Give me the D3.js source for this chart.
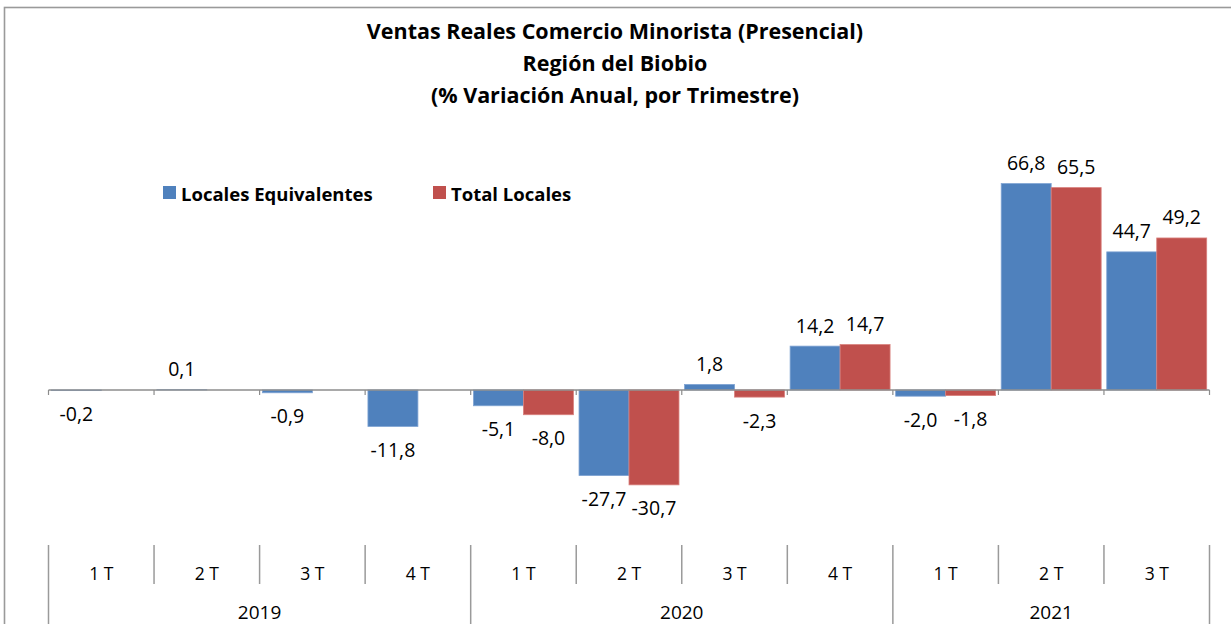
<!DOCTYPE html>
<html>
<head>
<meta charset="utf-8">
<script src="https://cdn.jsdelivr.net/npm/d3@7"></script>
<style>
  html, body { margin: 0; padding: 0; background: #fff; }
  svg { display: block; }
  text { font-family: "Open Sans", Lato, sans-serif; fill: #000; }
</style>
</head>
<body>
<svg id="chart" width="1231" height="624"></svg>
<script>
const titleLines = ["Ventas Reales Comercio Minorista (Presencial)", "Región del Biobio", "(% Variación Anual, por Trimestre)"];
const quarters = ["1 T", "2 T", "3 T", "4 T", "1 T", "2 T", "3 T", "4 T", "1 T", "2 T", "3 T"];
const years = ["2019", "2020", "2021"];
const yearSpans = [4, 4, 3];
const seriesNames = ["Locales Equivalentes", "Total Locales"];
const localesEquivalentes = [-0.2, 0.1, -0.9, -11.8, -5.1, -27.7, 1.8, 14.2, -2.0, 66.8, 44.7];
const totalLocales = [null, null, null, null, -8.0, -30.7, -2.3, 14.7, -1.8, 65.5, 49.2];
const colors = ["#4F81BD", "#C0504D"];
const edgeColors = ["#7fa3d3", "#d9807d"];

const svg = d3.select("#chart");
const W = 1231, H = 624;

// outer chart frame
svg.append("rect").attr("x", 4.5).attr("y", 7.5).attr("width", W + 20).attr("height", H + 20)
  .attr("fill", "none").attr("stroke", "#9a9a9a").attr("stroke-width", 1.6);

// title
const tY = [39, 71, 103];
titleLines.forEach((t, i) => {
  svg.append("text").attr("x", 615).attr("y", tY[i]).attr("text-anchor", "middle")
    .attr("font-weight", "bold").attr("font-size", 21.5).text(t);
});

// scales
const idx = d3.range(quarters.length);
const x = d3.scaleBand().domain(idx).range([48.5, 1209.5]).paddingInner(0).paddingOuter(0);
const xs = d3.scaleBand().domain([0, 1]).range([0, x.bandwidth()]).paddingInner(0).paddingOuter(0.056);
const y = d3.scaleLinear().domain([-40, 70]).range([390 + 40 * 3.09, 390 - 70 * 3.09]);

const data = [];
[localesEquivalentes, totalLocales].forEach((arr, s) => {
  arr.forEach((v, i) => { if (v !== null) data.push({ s, i, v }); });
});

const fmt = v => d3.format(".1f")(v).replace(".", ",").replace("−", "-");

// bars
svg.append("g").selectAll("rect").data(data).join("rect")
  .attr("x", d => x(d.i) + xs(d.s))
  .attr("width", xs.bandwidth())
  .attr("y", d => Math.min(y(d.v), y(0)))
  .attr("height", d => Math.abs(y(d.v) - y(0)))
  .attr("fill", d => colors[d.s])
  .attr("stroke", d => edgeColors[d.s]).attr("stroke-width", 0.8);

// zero axis line with small ticks
const axisG = svg.append("g");
axisG.append("line").attr("x1", x.range()[0]).attr("x2", x.range()[1])
  .attr("y1", y(0)).attr("y2", y(0)).attr("stroke", "#8c8c8c").attr("stroke-width", 1.5);
const bounds = idx.map(i => x(i)).concat([x.range()[1]]);
axisG.selectAll("line.tk").data(bounds).join("line").attr("class", "tk")
  .attr("x1", d => d).attr("x2", d => d).attr("y1", y(0)).attr("y2", y(0) + 5)
  .attr("stroke", "#8c8c8c").attr("stroke-width", 1.2);

// data labels
svg.append("g").selectAll("text").data(data).join("text")
  .attr("x", d => x(d.i) + xs(d.s) + xs.bandwidth() / 2)
  .attr("y", d => d.v >= 0 ? y(d.v) - 21 : y(d.v) + 23)
  .attr("text-anchor", "middle").attr("dominant-baseline", "central")
  .attr("font-size", 19.5).text(d => fmt(d.v));

// category axis table
const catG = svg.append("g");
let yearStarts = [0];
yearSpans.forEach((n, k) => yearStarts.push(yearStarts[k] + n));
bounds.forEach((b, k) => {
  const full = yearStarts.includes(k);
  catG.append("line").attr("x1", b).attr("x2", b).attr("y1", 545).attr("y2", full ? 630 : 584)
    .attr("stroke", "#9a9a9a").attr("stroke-width", 1.5);
});
catG.selectAll("text.q").data(idx).join("text").attr("class", "q")
  .attr("x", i => x(i) + x.bandwidth() / 2).attr("y", 573)
  .attr("text-anchor", "middle").attr("dominant-baseline", "central")
  .attr("font-size", 17.5).text(i => quarters[i]);
years.forEach((yr, k) => {
  const x0 = x(yearStarts[k]);
  const x1 = yearStarts[k + 1] < quarters.length ? x(yearStarts[k + 1]) : x.range()[1];
  catG.append("text").attr("x", (x0 + x1) / 2).attr("y", 612)
    .attr("text-anchor", "middle").attr("dominant-baseline", "central")
    .attr("font-size", 19).text(yr);
});

// legend
const legX = [163, 433];
seriesNames.forEach((n, s) => {
  svg.append("rect").attr("x", legX[s]).attr("y", 186).attr("width", 13).attr("height", 13)
    .attr("fill", colors[s]);
  svg.append("text").attr("x", legX[s] + 18).attr("y", 193)
    .attr("dominant-baseline", "central").attr("font-weight", "bold")
    .attr("font-size", 18.5).text(n);
});
</script>
</body>
</html>
